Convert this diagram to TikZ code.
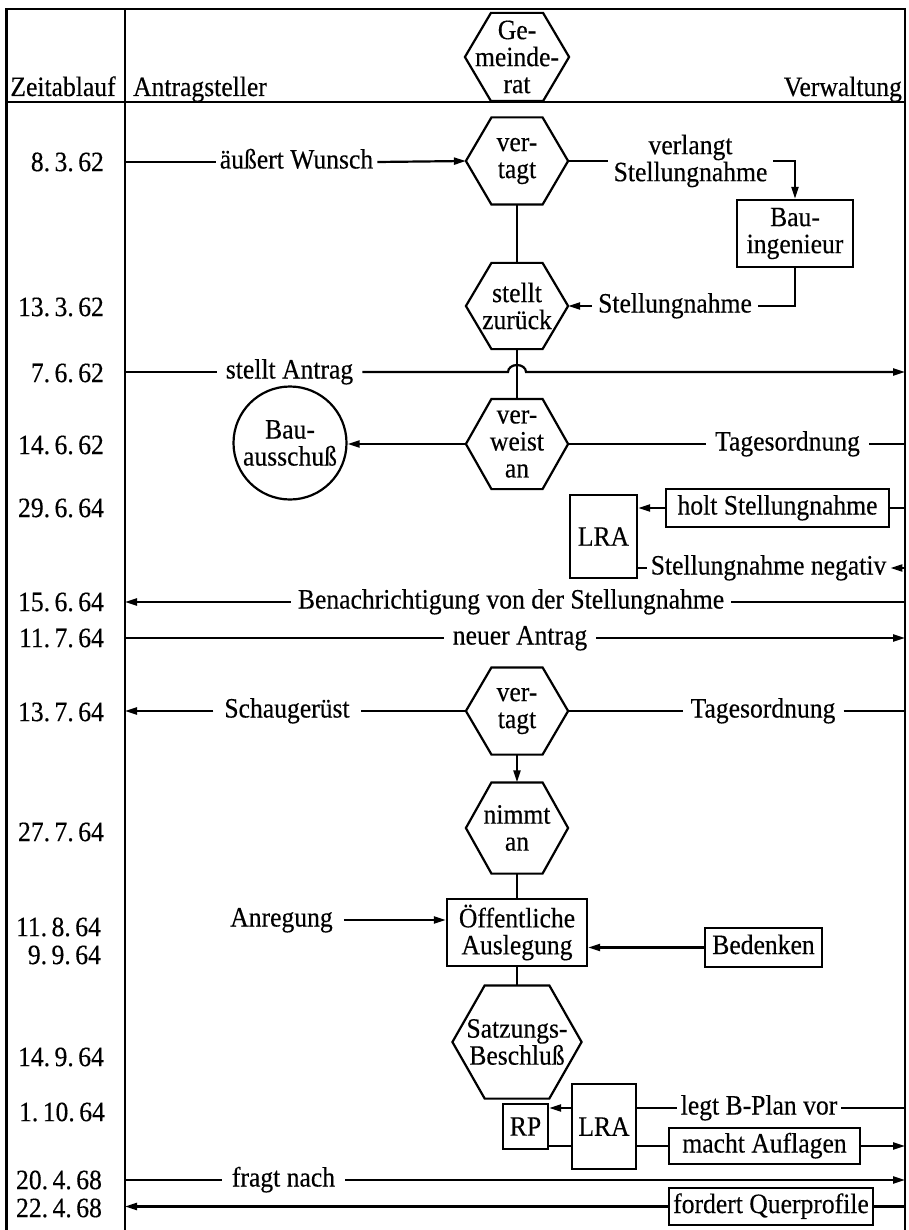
\documentclass[tikz,border=0pt]{standalone}
\usepackage{fontspec}
\setmainfont{Liberation Serif}[FakeStretch=0.915, FakeBold=0.3]
\usetikzlibrary{arrows.meta,calc}
% narrow gap used inside the dates
\newcommand\dsp{\kern0.16em}

\begin{document}
\begin{tikzpicture}[x=1pt,y=-1pt,
  line width=2.2pt,
  every node/.style={font=\fontsize{28}{27}\selectfont, inner sep=4pt},
  frame/.style={line width=2.4pt},
  arr/.style={-{Triangle[length=12pt,width=7pt]}},
  date/.style={anchor=east, inner sep=1pt},
  lbl/.style={text height=19pt, text depth=6pt},
  box/.style={draw, align=center, inner sep=0pt},
  onebox/.style={box, text height=19pt, text depth=6pt},
  ring/.style={draw, circle, minimum size=113pt, inner sep=0pt, align=center,
    font=\fontsize{28}{27}\selectfont},
  hexa/.style={inner sep=0pt, align=center, minimum width=100pt, minimum height=85pt,
    append after command={\pgfextra{\pgfinterruptpath
      \draw[line width=2.2pt, line join=miter]
        ($(\tikzlastnode.north west)!0.25!(\tikzlastnode.north east)$) --
        ($(\tikzlastnode.north west)!0.75!(\tikzlastnode.north east)$) --
        (\tikzlastnode.east) --
        ($(\tikzlastnode.south west)!0.75!(\tikzlastnode.south east)$) --
        ($(\tikzlastnode.south west)!0.25!(\tikzlastnode.south east)$) --
        (\tikzlastnode.west) -- cycle;
      \endpgfinterruptpath}}}
]
\useasboundingbox (0,0) rectangle (908,1230);

% table frame
\draw[frame] (6.5,1230) -- (6.5,9) -- (905,9) -- (905,1230);
\draw[frame] (6.5,102) -- (905,102);
\draw[frame] (125,9) -- (125,1230);
\coordinate (sep) at (125,0);
\coordinate (rb) at (905,0);

% column heads
\node[anchor=base, inner sep=0pt] (hZeit) at (63,96) {Zeitablauf};
\node[anchor=base west, inner sep=0pt] (hAntr) at (132,96) {Antragsteller};
\node[anchor=base east, inner sep=0pt] (hVerw) at (903,96) {Verwaltung};
\node[hexa, minimum width=102pt, minimum height=86pt] (gr) at (517,57) {Ge-\\meinde-\\rat};

% dates
\node[date] (d1)  at (106,162)  {8.\dsp 3.\dsp 62};
\node[date] (d2)  at (106,307)  {13.\dsp 3.\dsp 62};
\node[date] (d3)  at (106,373)  {7.\dsp 6.\dsp 62};
\node[date] (d4)  at (106,445)  {14.\dsp 6.\dsp 62};
\node[date] (d5)  at (106,508)  {29.\dsp 6.\dsp 64};
\node[date] (d6)  at (106,602)  {15.\dsp 6.\dsp 64};
\node[date] (d7)  at (106,638)  {11.\dsp 7.\dsp 64};
\node[date] (d8)  at (106,712)  {13.\dsp 7.\dsp 64};
\node[date] (d9)  at (106,832)  {27.\dsp 7.\dsp 64};
\node[date] (d10) at (103,927)  {11.\dsp 8.\dsp 64};
\node[date] (d11) at (103,955)  {9.\dsp 9.\dsp 64};
\node[date] (d12) at (106,1057) {14.\dsp 9.\dsp 64};
\node[date] (d13) at (107,1112) {1.\dsp 10.\dsp 64};
\node[date] (d14) at (104,1180) {20.\dsp 4.\dsp 68};
\node[date] (d15) at (104,1208) {22.\dsp 4.\dsp 68};

% council decisions
\node[hexa] (vt1) at (517,161) {ver-\\tagt};
\node[hexa, minimum height=84pt] (stz) at (517,306) {stellt\\zurück};
\node[hexa, minimum height=88pt] (vw) at (517,444) {ver-\\weist\\an};
\node[hexa] (vt2) at (517,711) {ver-\\tagt};
\node[hexa, minimum height=89pt] (nimmt) at (517,828) {nimmt\\an};
\node[hexa, minimum width=127pt, minimum height=111pt] (satz) at (517,1042) {Satzungs-\\Beschluß};

% offices and committees
\node[box, minimum width=116pt, minimum height=67pt] (bau) at (795,233.5) {Bau-\\ingenieur};
\node[ring] (bauaus) at (290,443) {Bau-\\ausschuß};
\node[box, minimum width=67pt, minimum height=83pt] (lra1) at (603.5,536.5) {LRA};
\node[onebox, minimum width=223pt, minimum height=38pt] (holt) at (777.5,508) {holt Stellungnahme};
\node[box, minimum width=140pt, minimum height=67pt] (oeff) at (517,932.5) {Öffentliche\\Auslegung};
\node[onebox, minimum width=117pt, minimum height=39pt] (bed) at (763.5,947.5) {Bedenken};
\node[box, minimum width=45pt, minimum height=45pt] (rp) at (525.5,1126.5) {RP};
\node[box, minimum width=64pt, minimum height=85pt] (lra2) at (604,1126.5) {LRA};
\node[onebox, minimum width=191pt, minimum height=36pt] (macht) at (764.5,1146) {macht Auflagen};
\node[onebox, minimum width=204pt, minimum height=37pt] (fordert) at (771,1206.5) {fordert Querprofile};

% connector labels
\node[lbl, inner sep=3pt] (wunsch) at (296.5,162) {äußert Wunsch};
\node[align=center, inner sep=5pt] (verl) at (690.5,161) {verlangt\\Stellungnahme};
\node[lbl, inner sep=5pt] (stl) at (675,306) {Stellungnahme};
\node[lbl, inner sep=8pt] (antrag) at (289.5,372) {stellt Antrag};
\node[lbl, inner sep=8pt] (tag1) at (787.5,444) {Tagesordnung};
\node[lbl, inner sep=3pt] (neg) at (768.5,568) {Stellungnahme negativ};
\node[lbl, inner sep=6pt] (benach) at (511,602) {Benachrichtigung von der Stellungnahme};
\node[lbl, inner sep=8pt] (neuer) at (520,638) {neuer Antrag};
\node[lbl, inner sep=10pt] (schau) at (287,711) {Schaugerüst};
\node[lbl, inner sep=7pt] (tag2) at (763,711) {Tagesordnung};
\node[lbl, inner sep=10pt] (anreg) at (281.5,920) {Anregung};
\node[lbl, inner sep=3pt] (legt) at (759,1108) {legt B-Plan vor};
\node[lbl, inner sep=9pt] (fragt) at (283.5,1180) {fragt nach};

% 8.3.62
\draw (wunsch.west -| sep) -- (wunsch.west);
\draw[arr] (wunsch.east) -- (vt1.west);
\draw (vt1.east) -- (verl.west);
\draw[arr] (verl.east) -| (bau.north);
% 13.3.62
\draw (vt1.south) -- (stz.north);
\draw (bau.south) |- (stl.east);
\draw[arr] (stl.west) -- (stz.east);
% 7.6.62 (hops over the council line)
\draw (stz.south) -- (vw.north);
\coordinate (hop) at (antrag.east -| stz.south);
\draw (antrag.west -| sep) -- (antrag.west);
\draw[arr] (antrag.east) -- ([xshift=-9pt]hop)
  arc[start angle=180, end angle=0, x radius=9pt, y radius=7pt]
  -- (antrag.east -| rb);
% 14.6.62
\draw[arr] (vw.west) -- (vw.west -| bauaus.east);
\draw (vw.east) -- (tag1.west);
\draw (tag1.east) -- (tag1.east -| rb);
% 29.6.64
\draw (holt.east -| rb) -- (holt.east);
\draw[arr] (holt.west) -- (holt.west -| lra1.east);
\draw (neg.west -| lra1.east) -- (neg.west);
\draw[arr] (neg.east -| rb) -- (neg.east);
% 15.6.64
\draw (benach.east -| rb) -- (benach.east);
\draw[arr] (benach.west) -- (benach.west -| sep);
% 11.7.64
\draw (neuer.west -| sep) -- (neuer.west);
\draw[arr] (neuer.east) -- (neuer.east -| rb);
% 13.7.64
\draw (vt2.west) -- (schau.east);
\draw[arr] (schau.west) -- (schau.west -| sep);
\draw (vt2.east) -- (tag2.west);
\draw (tag2.east) -- (tag2.east -| rb);
\draw[arr] (vt2.south) -- (nimmt.north);
% 27.7.64 - 14.9.64
\draw (nimmt.south) -- (oeff.north);
\draw[arr] (anreg.east) -- (anreg.east -| oeff.west);
\draw[arr] (bed.west) -- (bed.west -| oeff.east);
\draw (oeff.south) -- (satz.north);
% 1.10.64
\draw[arr] (lra2.west |- legt.west) -- (rp.east |- legt.west);
\draw (rp.east |- macht.west) -- (lra2.west |- macht.west);
\draw (lra2.east |- legt.west) -- (legt.west);
\draw (legt.east) -- (legt.east -| rb);
\draw (lra2.east |- macht.west) -- (macht.west);
\draw[arr] (macht.east) -- (macht.east -| rb);
% 20.4.68 / 22.4.68
\draw (fragt.west -| sep) -- (fragt.west);
\draw[arr] (fragt.east) -- (fragt.east -| rb);
\draw (fordert.east -| rb) -- (fordert.east);
\draw[arr] (fordert.west) -- (fordert.west -| sep);
\end{tikzpicture}
\end{document}
